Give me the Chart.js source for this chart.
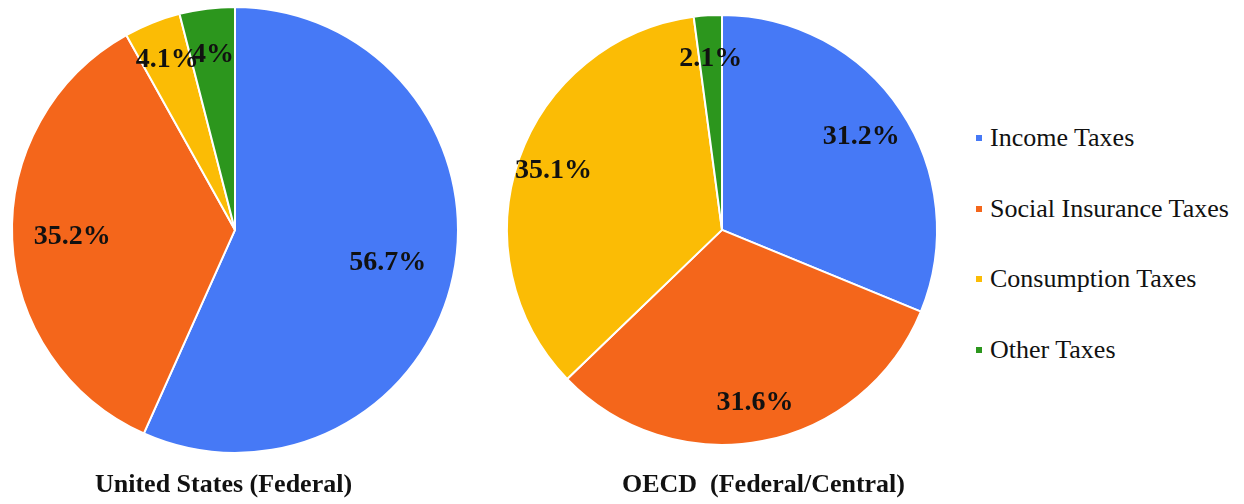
<!DOCTYPE html>
<html>
<head>
<meta charset="utf-8">
<script src="https://cdn.jsdelivr.net/npm/chart.js@4.4.1/dist/chart.umd.min.js"></script>
<style>
  html, body { margin: 0; padding: 0; background: #fff; overflow: hidden; font-family: 'Liberation Serif', serif; }
  #wrap { position: relative; width: 1244px; height: 504px; overflow: hidden; }
  .box { position: absolute; top: 0; height: 504px; }
  #legend {
    position: absolute; left: 976px; top: 103px;
    list-style: none; margin: 0; padding: 0;
    font-family: 'Liberation Serif', serif; font-size: 26px; color: #111;
  }
  #legend li { display: flex; align-items: center; height: 70.5px; white-space: nowrap; }
  #legend .swatch { display: inline-block; width: 6px; height: 6px; margin-right: 8px; }
</style>
</head>
<body>
<div id="wrap">
  <div class="box" style="left:-10px;width:480px;"><canvas id="usChart"></canvas></div>
  <div class="box" style="left:480px;width:480px;"><canvas id="oecdChart"></canvas></div>
  <ul id="legend"></ul>
</div>
<script>
// data
var taxTypes = ['Income Taxes', 'Social Insurance Taxes', 'Consumption Taxes', 'Other Taxes'];
var usShares = [56.7, 35.2, 4.1, 4];
var oecdShares = [31.2, 31.6, 35.1, 2.1];
var usTitle = 'United States (Federal)';
var oecdTitle = 'OECD  (Federal/Central)';

var sliceColors = ['#4679f6', '#f4661b', '#fbbc05', '#2c961d'];
var serif = "'Liberation Serif', serif";

// percent labels inside each slice
var pctLabels = {
  id: 'pctLabels',
  afterDatasetsDraw: function(chart, args, opts) {
    var ctx = chart.ctx;
    var meta = chart.getDatasetMeta(0);
    var values = chart.data.datasets[0].data;
    ctx.save();
    ctx.font = 'bold 28px ' + serif;
    ctx.fillStyle = '#111';
    ctx.textAlign = 'center';
    ctx.textBaseline = 'middle';
    meta.data.forEach(function(arc, i) {
      var p = arc.getProps(['x', 'y', 'startAngle', 'endAngle', 'outerRadius'], true);
      var mid = (p.startAngle + p.endAngle) / 2;
      var r = p.outerRadius * opts.spots[i];
      ctx.fillText(values[i] + '%', p.x + Math.cos(mid) * r, p.y + Math.sin(mid) * r);
    });
    ctx.restore();
  }
};

// legend built from the chart's own legend items
var htmlLegend = {
  id: 'htmlLegend',
  afterUpdate: function(chart, args, opts) {
    if (!opts.containerID) return;
    var list = document.getElementById(opts.containerID);
    list.innerHTML = '';
    var items = chart.options.plugins.legend.labels.generateLabels(chart);
    items.forEach(function(item) {
      var li = document.createElement('li');
      var box = document.createElement('span');
      box.className = 'swatch';
      box.style.background = item.fillStyle;
      var txt = document.createElement('span');
      txt.textContent = item.text;
      li.appendChild(box);
      li.appendChild(txt);
      list.appendChild(li);
    });
  }
};

function pieConfig(values, title, radius, spots, pad, titleAlign, legendId) {
  return {
    type: 'pie',
    data: {
      labels: taxTypes,
      datasets: [{
        data: values,
        backgroundColor: sliceColors,
        borderColor: '#ffffff',
        borderWidth: 2,
        radius: radius,
        clip: false
      }]
    },
    options: {
      responsive: true,
      maintainAspectRatio: false,
      animation: false,
      events: [],
      layout: { padding: pad },
      plugins: {
        tooltip: { enabled: false },
        legend: { display: false },
        title: {
          display: true,
          text: title,
          position: 'bottom',
          align: titleAlign,
          color: '#111',
          font: { family: serif, size: 26, weight: 'bold' },
          padding: { top: 90, bottom: 3 }
        },
        pctLabels: { spots: spots },
        htmlLegend: { containerID: legendId }
      }
    },
    plugins: [pctLabels, htmlLegend]
  };
}

function drawCharts() {
  new Chart(document.getElementById('usChart'),
    pieConfig(usShares, usTitle, 223, [0.70, 0.73, 0.82, 0.79],
      { left: 105, right: 95, top: 80, bottom: 0 }, 'start', null));

  new Chart(document.getElementById('oecdChart'),
    pieConfig(oecdShares, oecdTitle, 215, [0.78, 0.82, 0.83, 0.80],
      { left: 59, right: 55, top: 80, bottom: 0 }, 'end', 'legend'));
}

Promise.all([
  document.fonts.load("26px 'Liberation Serif'"),
  document.fonts.load("bold 26px 'Liberation Serif'")
]).then(drawCharts, drawCharts);
</script>
</body>
</html>
